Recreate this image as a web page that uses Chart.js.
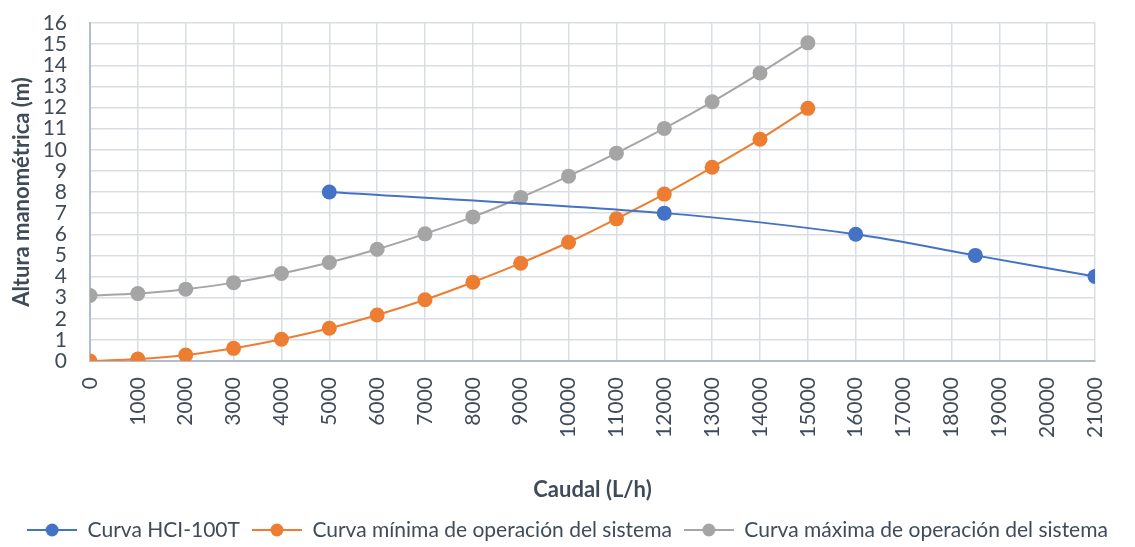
<!DOCTYPE html>
<html>
<head>
<meta charset="utf-8">
<script src="https://cdn.jsdelivr.net/npm/chart.js@4/dist/chart.umd.min.js"></script>
<style>
  body { margin: 0; background: #fff; }
  #wrap { width: 1135px; height: 547px; }
</style>
</head>
<body>
<div id="wrap"><canvas id="pumpChart"></canvas></div>
<script>
const xTicks = [0, 1000, 2000, 3000, 4000, 5000, 6000, 7000, 8000, 9000, 10000,
  11000, 12000, 13000, 14000, 15000, 16000, 17000, 18000, 19000, 20000, 21000];
const yTicks = [0, 1, 2, 3, 4, 5, 6, 7, 8, 9, 10, 11, 12, 13, 14, 15, 16];

const pumpFlow = [5000, 12000, 16000, 18500, 21000];
const pumpHead = [8, 7, 6, 5, 4];

const systemFlow = [0, 1000, 2000, 3000, 4000, 5000, 6000, 7000, 8000, 9000,
  10000, 11000, 12000, 13000, 14000, 15000];
const minHead = [0, 0.09, 0.28, 0.6, 1.03, 1.55, 2.18, 2.9, 3.73, 4.63,
  5.62, 6.73, 7.9, 9.17, 10.5, 11.96];
const maxHead = [3.1, 3.19, 3.4, 3.71, 4.14, 4.66, 5.29, 6.02, 6.82, 7.74,
  8.75, 9.84, 11.01, 12.27, 13.63, 15.06];

const seriesNames = ['Curva HCI-100T', 'Curva mínima de operación del sistema',
  'Curva máxima de operación del sistema'];
const COLORS = ['#4472C4', '#ED7D31', '#A5A5A5'];

const textColor = '#404b5a';
const fontFamily = 'Lato, "Open Sans", sans-serif';

function toPoints(xs, ys) {
  return xs.map((x, i) => ({ x: x, y: ys[i] }));
}

// legend marker: short line with a dot in the middle
function legendMarker(color) {
  const c = document.createElement('canvas');
  c.width = 50;
  c.height = 16;
  const ctx = c.getContext('2d');
  ctx.strokeStyle = color;
  ctx.lineWidth = 2;
  ctx.beginPath();
  ctx.moveTo(0, 8);
  ctx.lineTo(50, 8);
  ctx.stroke();
  ctx.fillStyle = color;
  ctx.beginPath();
  ctx.arc(25, 8, 6.5, 0, Math.PI * 2);
  ctx.fill();
  return c;
}

function makeDataset(i, xs, ys) {
  return {
    label: seriesNames[i],
    data: toPoints(xs, ys),
    borderColor: COLORS[i],
    backgroundColor: COLORS[i],
    borderWidth: 2,
    pointRadius: 7.5,
    pointHoverRadius: 7.5,
    pointBorderWidth: 0,
    tension: 0.3,
    pointStyle: 'circle'
  };
}

// legend sits lower than chart.js would put it
const legendHeight = {
  id: 'legendHeight',
  afterInit(chart) {
    const legend = chart.legend;
    const origFit = legend.fit;
    legend.fit = function () {
      origFit.call(this);
      this.height = 39.5;
    };
  }
};

const ctx = document.getElementById('pumpChart').getContext('2d');
const pumpChart = new Chart(ctx, {
  type: 'line',
  data: {
    datasets: [
      makeDataset(0, pumpFlow, pumpHead),
      makeDataset(1, systemFlow, minHead),
      makeDataset(2, systemFlow, maxHead)
    ]
  },
  plugins: [legendHeight],
  options: {
    responsive: true,
    maintainAspectRatio: false,
    animation: false,
    layout: { padding: { left: 0, right: 0, top: 23, bottom: 0 } },
    plugins: {
      legend: {
        position: 'bottom',
        labels: {
          color: textColor,
          font: { family: fontFamily, size: 21 },
          usePointStyle: true,
          pointStyleWidth: 50,
          boxHeight: 16,
          padding: 12,
          generateLabels: chart => chart.data.datasets.map((ds, i) => ({
            text: ds.label,
            pointStyle: legendMarker(COLORS[i]),
            fillStyle: COLORS[i],
            strokeStyle: COLORS[i],
            lineWidth: 0,
            datasetIndex: i,
            fontColor: textColor
          }))
        }
      },
      tooltip: { enabled: true }
    },
    scales: {
      x: {
        type: 'linear',
        min: 0,
        max: 21000,
        afterBuildTicks: axis => { axis.ticks = xTicks.map(v => ({ value: v })); },
        afterFit: axis => {
          axis.height = 146.5;
          axis.paddingLeft = 0;
          axis.paddingRight = 40;
        },
        ticks: {
          color: textColor,
          font: { family: fontFamily, size: 21 },
          minRotation: 90,
          maxRotation: 90,
          autoSkip: false,
          padding: 16,
          callback: v => String(v)
        },
        grid: { color: '#d9dde4', lineWidth: 1.5, drawTicks: false },
        border: { color: '#b4bccb', width: 2 },
        title: {
          display: true,
          text: 'Caudal (L/h)',
          color: textColor,
          font: { family: fontFamily, size: 22, weight: 'bold' },
          padding: { top: 20, bottom: 4 }
        }
      },
      y: {
        min: 0,
        max: 16,
        afterBuildTicks: axis => { axis.ticks = yTicks.map(v => ({ value: v })); },
        afterFit: axis => {
          axis.width = 90;
          axis.paddingTop = 0;
          axis.paddingBottom = 0;
        },
        ticks: {
          color: textColor,
          font: { family: fontFamily, size: 21 },
          autoSkip: false,
          padding: 23
        },
        grid: { color: '#d9dde4', lineWidth: 1.5, drawTicks: false },
        border: { color: '#b4bccb', width: 2 },
        title: {
          display: true,
          text: 'Altura manométrica (m)',
          color: textColor,
          font: { family: fontFamily, size: 22, weight: 'bold' },
          padding: { top: 9, bottom: 8 }
        }
      }
    }
  }
});
</script>
</body>
</html>
